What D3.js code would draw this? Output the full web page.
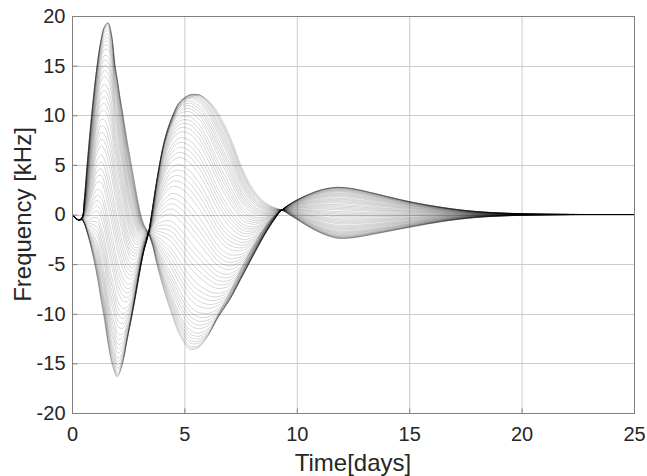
<!DOCTYPE html>
<html>
<head>
<meta charset="utf-8">
<script src="https://cdn.jsdelivr.net/npm/d3@7"></script>
<style>
    body { margin: 0; background: #fff; }
    svg { display: block; font-family: "Liberation Sans", Arial, sans-serif; }
</style>
</head>
<body>
<svg id="chart" width="647" height="476"></svg>
<script>
/**
 * Data.
 */
const timeDays = [0, 0.15, 0.3, 0.45, 0.55, 0.67, 0.87, 1.12, 1.3, 1.45, 1.6, 1.75, 1.91, 2.0, 2.1, 2.27,
    2.45, 2.65, 2.85, 3.05, 3.2, 3.4, 3.6, 3.77, 4.1, 4.43, 4.8, 5.25, 5.55, 5.69, 6.1, 6.51, 7.0, 7.62,
    8.1, 8.6, 9.0, 9.33, 9.8, 10.5, 11.1, 11.8, 12.5, 13.5, 15, 16.5, 18, 20, 22, 25];

// Curve with the highest first peak
const upperCurve = [0, -0.35, -0.55, -0.3, 1.6, 5, 10, 15, 17.6, 18.9, 19.3, 18.2, 15, 13.8, 12.3, 10,
    7.5, 5, 2.4, 0.1, -1.0, -1.9, -3.3, -5, -7.7, -10, -12.2, -13.6, -13.5, -13.3, -12, -10, -7.9, -5,
    -3.0, -1.2, -0.1, 0.45, 1.2, 2.0, 2.5, 2.74, 2.6, 2.1, 1.3, 0.7, 0.3, 0.08, 0.01, 0];

// Curve in the middle of the bundle
const middleCurve = [0, -0.35, -0.55, -0.4, 0.1, 1.1, 3.2, 5.5, 6.0, 5.5, 4.3, 2.8, 0.8, -0.3, -1.4, -3.0,
    -4.3, -5.0, -4.8, -3.9, -3.0, -1.9, -0.6, 0.5, 2.0, 2.8, 2.7, 1.8, 0.9, 0.5, -1.0, -2.5, -3.5, -3.6,
    -2.8, -1.5, -0.4, 0.45, 0.6, 0.5, 0.4, 0.3, 0.25, 0.18, 0.1, 0.05, 0.02, 0, 0, 0];

// Curve with the deepest first trough
const lowerCurve = [0, -0.35, -0.55, -0.55, -0.9, -1.7, -3.5, -6.3, -8.8, -10.7, -13, -14.8, -16.0, -16.4, -16.1, -14.8,
    -12.5, -10, -7.4, -4.9, -3.4, -1.9, 0.8, 3.2, 7.0, 9.2, 10.9, 11.8, 12.0, 12.0, 11.4, 10.2, 8, 4.4,
    2.4, 1.2, 0.7, 0.45, -0.2, -1.2, -1.9, -2.4, -2.35, -1.95, -1.3, -0.7, -0.3, -0.08, -0.01, 0];

// Position of each drawn curve inside the bundle (degrees, 0 = upper, 180 = lower)
const curveAngles = [0, 3, 6, 10, 13, 16, 19, 22, 26, 29, 32, 35, 38, 42, 45, 48, 51, 54, 58, 61, 64,
    67, 70, 74, 77, 80, 83, 86, 90, 93, 96, 99, 102, 106, 109, 112, 115, 118, 122, 125, 128, 131, 134,
    138, 141, 144, 147, 150, 154, 157, 160, 163, 166, 170, 173, 176, 180];

const xTicks = [0, 5, 10, 15, 20, 25];
const yTicks = [-20, -15, -10, -5, 0, 5, 10, 15, 20];

/**
 * Layout.
 */
const margin = { top: 16, right: 13, bottom: 63, left: 72 },
    visWidth = 647, visHeight = 476,
    width = visWidth - margin.left - margin.right,
    height = visHeight - margin.top - margin.bottom;

const xScale = d3.scaleLinear().domain([0, 25]).range([0, width]),
    yScale = d3.scaleLinear().domain([-20, 20]).range([height, 0]);

const svg = d3.select('#chart');
const g = svg.append('g').attr('transform', 'translate(' + margin.left + ',' + margin.top + ')');

g.append('clipPath').attr('id', 'plot-clip')
    .append('rect').attr('width', width).attr('height', height);

// Grid
g.append('g').selectAll('line').data(xTicks.slice(1, -1)).join('line')
    .attr('x1', d => xScale(d) + 0.5).attr('x2', d => xScale(d) + 0.5)
    .attr('y1', 0).attr('y2', height)
    .attr('stroke', '#cbcbcb').attr('stroke-width', 1);
g.append('g').selectAll('line').data(yTicks.slice(1, -1)).join('line')
    .attr('y1', d => Math.round(yScale(d)) + 0.5).attr('y2', d => Math.round(yScale(d)) + 0.5)
    .attr('x1', 0).attr('x2', width)
    .attr('stroke', '#cbcbcb').attr('stroke-width', 1);

/**
 * Curves: each one mixes the three read curves by its angle.
 */
function curvePoints(angle) {
    const a = angle * Math.PI / 180;
    return timeDays.map((t, i) => {
        const c = (upperCurve[i] + lowerCurve[i]) / 2,
            p = (upperCurve[i] - lowerCurve[i]) / 2,
            q = middleCurve[i] - c;
        return [t, c + Math.cos(a) * p + Math.sin(a) * q];
    });
}

const line = d3.line()
    .x(d => xScale(d[0]))
    .y(d => yScale(d[1]))
    .curve(d3.curveCatmullRom.alpha(0.5));

g.append('g').attr('clip-path', 'url(#plot-clip)')
    .selectAll('path').data(curveAngles).join('path')
    .attr('d', d => line(curvePoints(d)))
    .attr('fill', 'none')
    .attr('stroke', '#000')
    .attr('stroke-opacity', 0.2)
    .attr('stroke-width', 0.8);

// Box and ticks
const axisColor = '#808080';
g.append('rect')
    .attr('x', 0.5).attr('y', 0.5).attr('width', width).attr('height', height)
    .attr('fill', 'none').attr('stroke', axisColor).attr('stroke-width', 1);

const xAxis = g.append('g').attr('transform', 'translate(0,' + (height + 0.5) + ')')
    .call(d3.axisBottom(xScale).tickValues(xTicks).tickFormat(d => String(d))
        .tickSizeInner(-5).tickSizeOuter(0).tickPadding(13));
const yAxis = g.append('g').attr('transform', 'translate(0.5,0)')
    .call(d3.axisLeft(yScale).tickValues(yTicks).tickFormat(d => String(d))
        .tickSizeInner(-5).tickSizeOuter(0).tickPadding(7));

[xAxis, yAxis].forEach(ax => {
    ax.select('.domain').remove();
    ax.selectAll('line').attr('stroke', axisColor);
    ax.selectAll('text').attr('fill', '#262626')
        .style('font-size', '20px')
        .style('font-family', '"Liberation Sans", Arial, sans-serif');
});

// Axis labels
svg.append('text')
    .attr('x', margin.left + width / 2).attr('y', 471)
    .attr('text-anchor', 'middle')
    .attr('fill', '#262626')
    .style('font-size', '24px')
    .text('Time[days]');

svg.append('text')
    .attr('transform', 'translate(31,' + (margin.top + height / 2) + ') rotate(-90)')
    .attr('text-anchor', 'middle')
    .attr('fill', '#262626')
    .style('font-size', '24px')
    .text('Frequency [kHz]');
</script>
</body>
</html>
